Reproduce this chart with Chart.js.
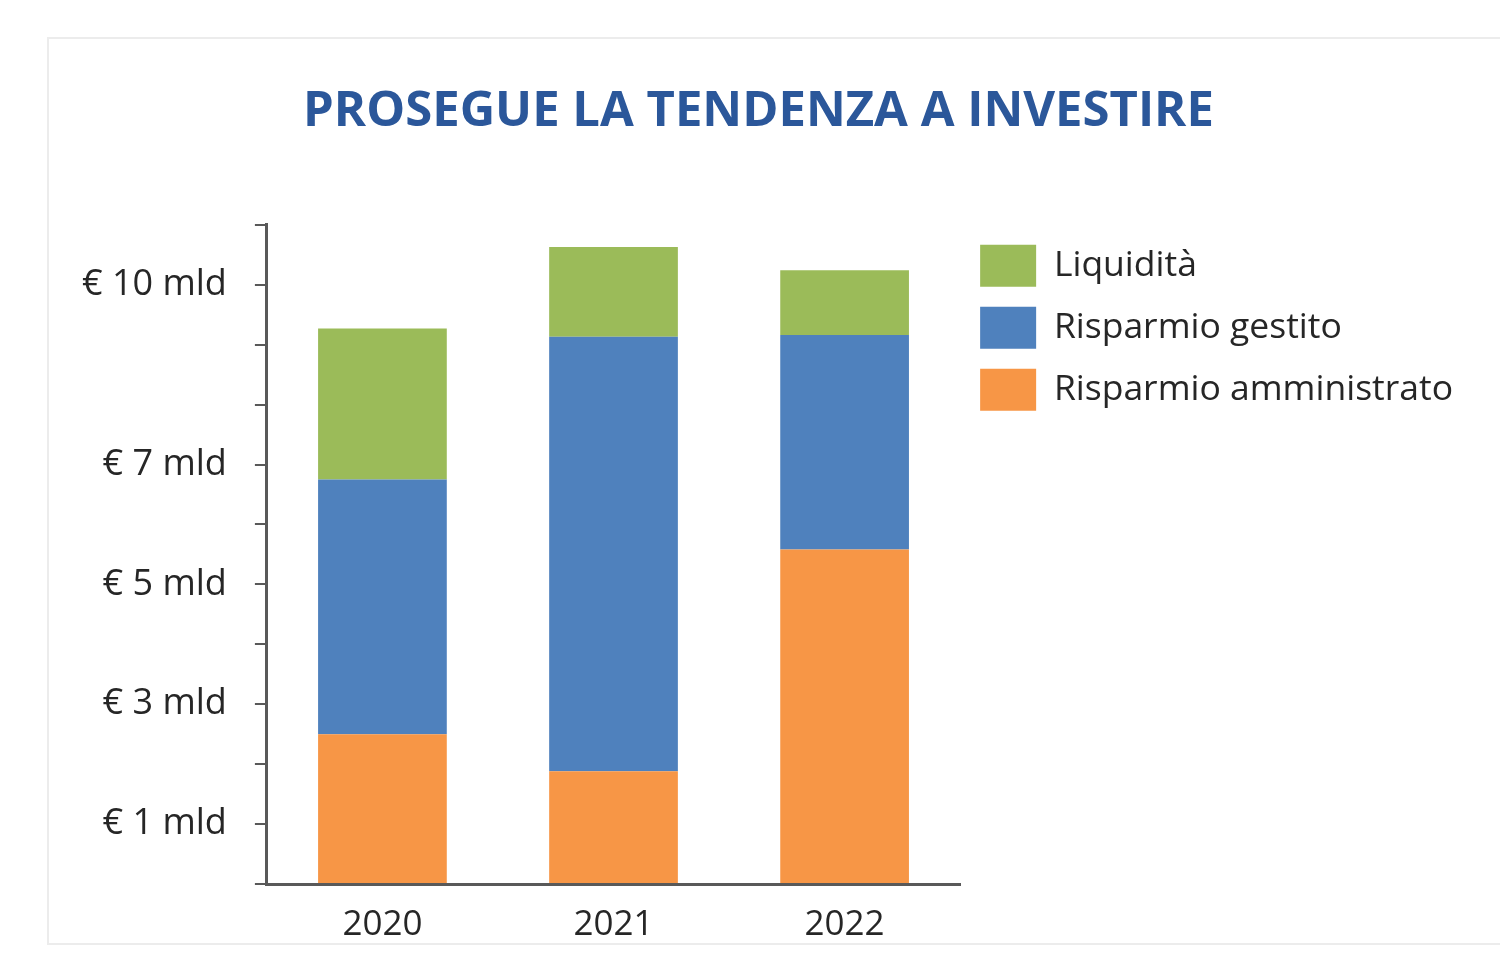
<!DOCTYPE html>
<html>
<head>
<meta charset="utf-8">
<script src="https://cdn.jsdelivr.net/npm/chart.js@4.4.1/dist/chart.umd.min.js"></script>
<style>
  html, body { margin: 0; padding: 0; background: #fff; }
  #frame { position: absolute; left: 47px; top: 37px; width: 1500px; height: 904px; border: 2px solid #ececec; }
  #wrap { position: absolute; left: 0; top: 0; width: 1500px; height: 969px; }
</style>
</head>
<body>
<div id="frame"></div>
<div id="wrap"><canvas id="myChart" width="1500" height="969"></canvas></div>
<script>
const years = ['2020', '2021', '2022'];
const amministrato = [2.5, 1.88, 5.58];
const gestito = [4.25, 7.25, 3.58];
const liquidita = [2.52, 1.5, 1.08];
const yLabelled = [1, 3, 5, 7, 10];

const axisColor = '#595959';
const textColor = '#262626';
const font = "'Open Sans', sans-serif";

const ctx = document.getElementById('myChart').getContext('2d');
const investChart = new Chart(ctx, {
    type: 'bar',
    data: {
        labels: years,
        datasets: [{
            label: 'Risparmio amministrato',
            data: amministrato,
            backgroundColor: '#F79646'
        }, {
            label: 'Risparmio gestito',
            data: gestito,
            backgroundColor: '#4F81BD'
        }, {
            label: 'Liquidità',
            data: liquidita,
            backgroundColor: '#9BBB59'
        }]
    },
    options: {
        responsive: false,
        animation: false,
        devicePixelRatio: 1,
        categoryPercentage: 1,
        barPercentage: 0.557,
        layout: {
            padding: { top: 83, right: 37, bottom: 11, left: 54 }
        },
        scales: {
            x: {
                stacked: true,
                grid: { display: false },
                border: { display: true, color: axisColor, width: 3 },
                ticks: { color: textColor, font: { family: font, size: 35 }, padding: 12 }
            },
            y: {
                stacked: true,
                min: 0,
                max: 11,
                grid: {
                    drawOnChartArea: false,
                    drawTicks: true,
                    tickLength: 12,
                    color: axisColor,
                    lineWidth: 2
                },
                border: { display: true, color: axisColor, width: 3 },
                ticks: {
                    stepSize: 1,
                    autoSkip: false,
                    color: textColor,
                    padding: 28,
                    font: { family: font, size: 36 },
                    callback: function(value) {
                        return yLabelled.includes(value) ? '€ ' + value + ' mld' : '';
                    }
                }
            }
        },
        plugins: {
            title: {
                display: true,
                text: 'PROSEGUE LA TENDENZA A INVESTIRE',
                color: '#2B579A',
                font: { family: font, size: 49, weight: 'bold' },
                padding: { top: 0, bottom: 83 }
            },
            legend: {
                display: true,
                position: 'right',
                align: 'start',
                fullSize: false,
                reverse: true,
                maxWidth: 580,
                labels: {
                    boxWidth: 56,
                    boxHeight: 42,
                    padding: 20,
                    color: textColor,
                    font: { family: font, size: 35.5 }
                }
            },
            tooltip: { enabled: false }
        }
    }
});
</script>
</body>
</html>
